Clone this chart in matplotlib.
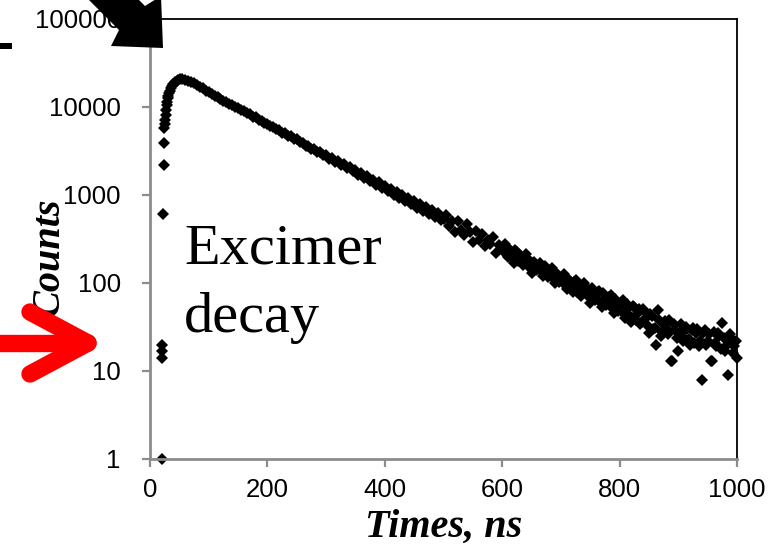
import numpy as np
import matplotlib
matplotlib.use("Agg")
import matplotlib.pyplot as plt
from matplotlib.patches import Polygon, Rectangle
from matplotlib.lines import Line2D

W, H = 769, 546

# rising edge of the decay (ns, counts)
rise_t = [20, 20.5, 20.5, 20.5, 22.7, 23.0, 23.3, 24.4, 25.6, 26.0, 27.3, 27.8, 28.4,
          29.2, 30.1, 31.2, 32.4, 33.8, 35.2, 37.4, 39.7, 42.5, 45.4, 48.0, 51.0]
rise_counts = [1, 14, 17, 20, 610, 2200, 3900, 5730, 6410, 7110, 8110, 9250, 10540,
               11500, 12570, 13500, 14300, 15300, 16300, 17300, 18250, 19100, 19740, 20200, 20600]

# decay, one channel every 5 ns from 55 to 1000 ns
decay_t = list(range(55, 1001, 5))
decay_counts = [
    20700, 20400, 19900, 19350, 18500, 17800, 16950, 16300, 15380, 14700,
    13950, 13500, 12850, 12450, 11800, 11450, 10850, 10600, 9980, 9720,
    9190, 8960, 8450, 8240, 7790, 7610, 7150, 7010, 6580, 6450,
    6040, 5950, 5580, 5460, 5120, 5040, 4700, 4640, 4330, 4290,
    3980, 3930, 3650, 3640, 3360, 3350, 3080, 3090, 2840, 2850,
    2590, 2630, 2400, 2440, 2190, 2250, 2010, 2080, 1850, 1910,
    1690, 1760, 1550, 1630, 1430, 1500, 1310, 1390, 1200, 1280,
    1100, 1180, 1010, 1090, 930, 1010, 850, 925, 785, 860,
    720, 790, 660, 735, 610, 680, 560, 630, 515, 540,
    600, 440, 500, 380, 500, 405, 355, 470, 380, 290,
    385, 310, 365, 265, 305, 280, 330, 220, 270, 250,
    280, 200, 230, 170, 225, 185, 160, 215, 175, 130,
    175, 145, 170, 120, 140, 128, 150, 100, 122, 114,
    126, 86, 106, 78, 108, 88, 72, 100, 82, 60,
    84, 68, 82, 54, 68, 62, 74, 46, 58, 55,
    64, 40, 52, 36, 54, 45, 34, 50, 40, 27,
    42, 31, 49, 25, 33, 30, 38, 13, 29, 17,
    34, 24, 30, 20, 31, 27, 19, 8, 29, 22,
    13, 28, 19, 25, 35, 17, 9, 24, 19, 14,
]

# extra channels in the noisy tail (602.5 ... 997.5 ns)
tail_t = [602.5 + 5 * i for i in range(80)]
tail_counts = [
    225, 255, 215, 195, 235, 180, 205, 170, 190, 150,
    168, 140, 160, 132, 155, 118, 136, 112, 130, 104,
    118, 96, 112, 90, 102, 80, 96, 76, 90, 70,
    88, 64, 78, 60, 76, 56, 70, 52, 66, 48,
    60, 44, 58, 42, 55, 38, 50, 36, 47, 33,
    44, 30, 20, 38, 28, 37, 26, 13, 34, 24,
    27, 22, 32, 23, 29, 21, 30, 22, 27, 20,
    26, 13, 21, 27, 18, 24, 20, 26, 16, 22,
]

x_ticks = [0, 200, 400, 600, 800, 1000]
y_ticks = [1, 10, 100, 1000, 10000, 100000]


def fx(x):
    return x / W


def fy(y):
    return 1 - y / H


fig = plt.figure(figsize=(W / 100, H / 100), dpi=100)
ax = fig.add_axes([fx(150), fy(459), fx(737) - fx(150), fy(19) - fy(459)])

t_all = rise_t + decay_t + tail_t
c_all = rise_counts + decay_counts + tail_counts
ax.plot(t_all, c_all, linestyle="none", marker="D", markersize=5.8,
        color="black", markeredgewidth=0, clip_on=False)

ax.set_yscale("log")
ax.set_xlim(0, 1000)
ax.set_ylim(1, 100000)
ax.set_xticks(x_ticks)
ax.set_yticks(y_ticks)
ax.set_xticklabels([str(v) for v in x_ticks])
ax.set_yticklabels([str(v) for v in y_ticks])
ax.minorticks_off()

gray = "#8c8c8c"
for s in ["left", "bottom"]:
    ax.spines[s].set_color(gray)
    ax.spines[s].set_linewidth(2.0)
for s in ["top", "right"]:
    ax.spines[s].set_color("black")
    ax.spines[s].set_linewidth(1.3)
ax.tick_params(axis="both", direction="out", length=6, width=1.6, color=gray,
               labelsize=18.5, labelcolor="black")
ax.tick_params(axis="y", pad=15)
ax.tick_params(axis="x", pad=8)
for lab in ax.get_xticklabels() + ax.get_yticklabels():
    lab.set_family("Liberation Sans")

serif = "Liberation Serif"
fig.text(fx(444), fy(537), "Times, ns", family=serif, fontsize=29, fontweight="bold",
         fontstyle="italic", ha="center", va="baseline")
fig.text(fx(68), fy(257), "Counts", family=serif, fontsize=29, fontweight="bold",
         fontstyle="italic", rotation=90, ha="right", va="center")

fig.text(fx(184), fy(263), "Excimer", family=serif, fontsize=42, va="baseline")
fig.text(fx(184), fy(332), "decay", family=serif, fontsize=42, va="baseline")

# black block arrow at the top-left corner
arrow_px = [(163, 48), (111, 46), (119, 30), (39, -50), (65, -74), (145, 6), (161, -4)]
fig.add_artist(Polygon([(fx(x), fy(y)) for x, y in arrow_px], closed=True,
                       transform=fig.transFigure, facecolor="black",
                       edgecolor="none", zorder=10))
fig.add_artist(Rectangle((fx(0), fy(49)), fx(12), fy(43) - fy(49),
                         transform=fig.transFigure, facecolor="black",
                         edgecolor="none", zorder=10))

# red arrow at the left
red = "#ff0000"
for (x0, y0), (x1, y1) in [((-10, 343), (86, 343)), ((30, 312), (88, 343)),
                           ((30, 374), (88, 343))]:
    fig.add_artist(Line2D([fx(x0), fx(x1)], [fy(y0), fy(y1)],
                          transform=fig.transFigure, color=red, linewidth=12.5,
                          solid_capstyle="round", zorder=11))

fig.savefig("out.png", dpi=100)
